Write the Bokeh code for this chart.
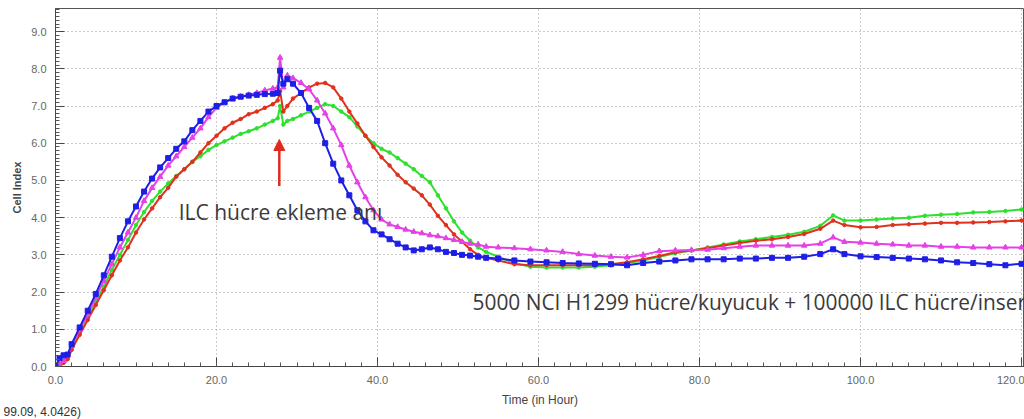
from bokeh.plotting import figure
from bokeh.models import (Range1d, SingleIntervalTicker, PrintfTickFormatter, LinearAxis,
                          Label, Arrow, NormalHead, Title)
from bokeh.embed import file_html
from bokeh.resources import INLINE

# ---- data ----
T = [0, 0.5, 1, 1.5, 2, 3, 4, 5, 6, 7, 8, 9, 10, 11, 12, 13, 14, 15, 16, 17, 18, 19, 20,
     21, 22, 23, 24, 25, 26, 27, 27.6, 27.9, 28.3, 28.8, 29.5, 30.5, 31.5, 32.5, 33.5, 34.5,
     35.5, 36.5, 37.5, 38.5, 39.5, 40.5, 41.5, 42.5, 43.5, 44.5, 45.5, 46.5, 47.5, 48.5,
     49.5, 50.5, 51.5, 52.5, 53.5, 55, 57, 59, 61, 63, 65, 67, 69, 71, 73, 75, 77, 79, 81,
     83, 85, 87, 89, 91, 93, 95, 96.6, 98, 100, 102, 104, 106, 108, 110, 112, 114, 116,
     118, 120]

blue = [0.0, 0.22, 0.3, 0.32, 0.6, 1.05, 1.5, 1.95, 2.45, 2.95, 3.45, 3.9, 4.3, 4.7, 5.05,
        5.35, 5.6, 5.85, 6.05, 6.35, 6.6, 6.85, 7.0, 7.1, 7.2, 7.25, 7.28, 7.3, 7.32, 7.33,
        7.35, 7.95, 7.6, 7.72, 7.6, 7.35, 6.95, 6.6, 6.0, 5.45, 5.0, 4.6, 4.2, 3.9, 3.66,
        3.55, 3.42, 3.3, 3.2, 3.12, 3.15, 3.2, 3.15, 3.08, 3.05, 3.0, 2.98, 2.95, 2.92, 2.9,
        2.85, 2.82, 2.8, 2.78, 2.77, 2.76, 2.75, 2.72, 2.78, 2.82, 2.85, 2.88, 2.88, 2.88,
        2.9, 2.9, 2.92, 2.92, 2.95, 3.02, 3.15, 3.02, 2.96, 2.94, 2.92, 2.9, 2.88, 2.85,
        2.8, 2.78, 2.75, 2.72, 2.76]

magenta = [0.0, 0.05, 0.15, 0.3, 0.55, 1.0, 1.4, 1.85, 2.3, 2.75, 3.2, 3.6, 4.0, 4.45, 4.8,
           5.1, 5.4, 5.65, 5.9, 6.15, 6.4, 6.7, 6.95, 7.1, 7.2, 7.25, 7.3, 7.35, 7.42, 7.47,
           7.5, 8.3, 7.5, 7.82, 7.75, 7.62, 7.45, 7.15, 6.8, 6.4, 5.95, 5.4, 4.95, 4.55, 4.2,
           3.95, 3.82, 3.75, 3.68, 3.62, 3.58, 3.53, 3.5, 3.45, 3.4, 3.35, 3.3, 3.28, 3.22,
           3.2, 3.18, 3.15, 3.12, 3.08, 3.02, 2.98, 2.95, 2.93, 3.0, 3.1, 3.12, 3.13, 3.14,
           3.18, 3.22, 3.25, 3.25, 3.25, 3.25, 3.3, 3.47, 3.35, 3.33, 3.3, 3.28, 3.25, 3.25,
           3.22, 3.22, 3.2, 3.2, 3.2, 3.2]

red = [0.0, 0.02, 0.1, 0.2, 0.45, 0.85, 1.25, 1.65, 2.05, 2.45, 2.85, 3.2, 3.6, 3.95, 4.25,
       4.55, 4.8, 5.1, 5.3, 5.5, 5.75, 6.0, 6.2, 6.4, 6.55, 6.65, 6.78, 6.85, 6.95, 7.05,
       7.15, 7.4, 6.85, 7.0, 7.2, 7.35, 7.5, 7.6, 7.62, 7.5, 7.2, 6.85, 6.53, 6.2, 5.9,
       5.62, 5.4, 5.15, 4.95, 4.78, 4.6, 4.35, 4.05, 3.8, 3.55, 3.35, 3.15, 3.0, 2.92, 2.85,
       2.75, 2.72, 2.72, 2.72, 2.72, 2.72, 2.75, 2.8, 2.88, 2.97, 3.07, 3.12, 3.18, 3.25,
       3.32, 3.38, 3.42, 3.48, 3.56, 3.7, 3.92, 3.8, 3.74, 3.75, 3.8, 3.82, 3.84, 3.86, 3.86,
       3.87, 3.88, 3.9, 3.92]

green = [0.0, 0.02, 0.1, 0.2, 0.45, 0.88, 1.3, 1.72, 2.15, 2.6, 3.0, 3.4, 3.8, 4.15, 4.45,
         4.7, 4.92, 5.12, 5.3, 5.5, 5.65, 5.82, 5.95, 6.05, 6.15, 6.25, 6.32, 6.4, 6.5, 6.6,
         6.67, 7.0, 6.5, 6.6, 6.65, 6.75, 6.85, 6.95, 7.05, 7.0, 6.85, 6.7, 6.45, 6.2, 6.0,
         5.85, 5.75, 5.6, 5.45, 5.3, 5.12, 4.95, 4.6, 4.25, 3.9, 3.6, 3.38, 3.2, 3.08, 2.95,
         2.78, 2.68, 2.66, 2.66, 2.66, 2.68, 2.72, 2.78, 2.85, 2.95, 3.04, 3.12, 3.2, 3.28,
         3.36, 3.42, 3.48, 3.54, 3.62, 3.78, 4.06, 3.92, 3.92, 3.95, 3.98, 4.0, 4.05, 4.08,
         4.1, 4.14, 4.15, 4.18, 4.22]

x_label = "Time (in Hour)"
y_label = "Cell Index"
note_event = "ILC hücre ekleme anı"
note_setup = "5000 NCI H1299 hücre/kuyucuk + 100000 ILC hücre/insert"
cursor_text = "99.09, 4.0426)"
event_time = 27.8

# ---- figure ----
p = figure(width=1024, height=419, output_backend="svg", toolbar_location=None,
           x_range=Range1d(0, 120.37), y_range=Range1d(0, 9.62),
           min_border_left=55, min_border_right=0, min_border_top=8, min_border_bottom=53,
           x_axis_location=None, y_axis_location=None)
p.background_fill_color = "white"
p.border_fill_color = "white"
p.outline_line_color = "#555555"
p.outline_line_width = 1

xt = SingleIntervalTicker(interval=20, num_minor_ticks=10)
yt = SingleIntervalTicker(interval=1, num_minor_ticks=10)

def style(ax):
    ax.axis_line_color = "#444444"
    ax.major_tick_line_color = "#444444"
    ax.minor_tick_line_color = "#555555"
    ax.major_tick_in = 9
    ax.major_tick_out = 0
    ax.minor_tick_in = 4
    ax.minor_tick_out = 0
    ax.major_label_text_font = "Liberation Sans"
    ax.major_label_text_font_size = "11px"
    ax.major_label_text_color = "#666666"
    ax.major_label_standoff = 9
    ax.formatter = PrintfTickFormatter(format="%.1f")
    ax.axis_label_text_font = "Liberation Sans"
    ax.axis_label_text_font_style = "normal"
    ax.axis_label_text_color = "#444444"

xa = LinearAxis(ticker=xt, axis_label=x_label)
style(xa)
xa.axis_label_text_font_size = "12px"
xa.axis_label_standoff = 6
p.add_layout(xa, "below")
ya = LinearAxis(ticker=yt, axis_label=y_label)
style(ya)
ya.axis_label_text_font_size = "11px"
ya.axis_label_text_font_style = "bold"
ya.axis_label_standoff = 5
p.add_layout(ya, "left")

p.xgrid.ticker = xt
p.ygrid.ticker = yt
p.grid.grid_line_color = "#9a9a9a"
p.grid.grid_line_dash = "1 3"
p.grid.grid_line_width = 1

# ---- series ----
cols = {"green": "#2ee02e", "red": "#e0301e", "magenta": "#e640e6", "blue": "#1e1ee6"}
p.line(T, green, line_color=cols["green"], line_width=2)
p.scatter(T, green, marker="circle", size=3.5, color=cols["green"])
p.line(T, red, line_color=cols["red"], line_width=2)
p.scatter(T, red, marker="circle", size=3.5, color=cols["red"])
p.line(T, magenta, line_color=cols["magenta"], line_width=2)
p.scatter(T, magenta, marker="triangle", size=5.5, color=cols["magenta"])
p.line(T, blue, line_color=cols["blue"], line_width=2)
p.scatter(T, blue, marker="square", size=5, color=cols["blue"])

# ---- annotations ----
p.add_layout(Arrow(end=NormalHead(size=11, fill_color="#e02a1e", line_color="#e02a1e"),
                   x_start=event_time, y_start=4.85, x_end=event_time, y_end=6.1,
                   line_color="#e02a1e", line_width=2.5))
p.add_layout(Label(x=15.3, y=4.15, text=note_event, text_font="Open Sans",
                   text_font_size="21px", text_color="#3a3a3a", text_baseline="middle"))
p.add_layout(Label(x=51.8, y=1.72, text=note_setup, text_font="Open Sans",
                   text_font_size="20.9px", text_color="#3a3a3a", text_baseline="middle"))
p.add_layout(Title(text=cursor_text, align="left", offset=-52, standoff=-14,
                   text_font="Liberation Sans", text_font_size="12px",
                   text_font_style="normal", text_color="#333333"), "below")

open("out.html", "w").write(file_html(p, INLINE))
